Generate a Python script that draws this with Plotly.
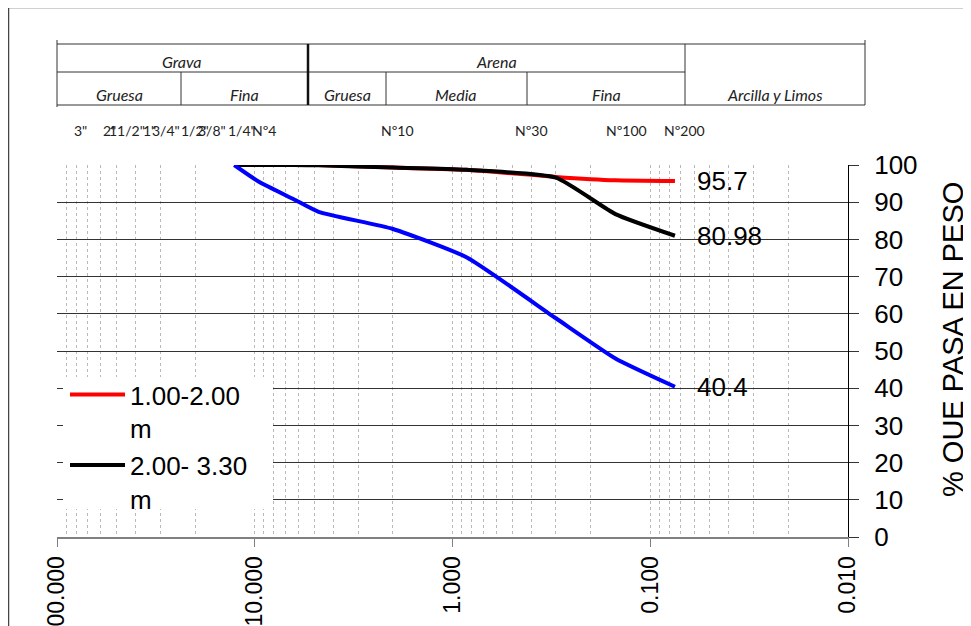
import numpy as np
import plotly.graph_objects as go

# ---------------- data ----------------
sieve_mm = [12.7, 9.525, 6.35, 4.75, 2.0, 0.85, 0.3, 0.15, 0.075]
pass_100_200 = [100, 100, 100, 100, 99.3, 98.7, 96.8, 95.9, 95.7]
pass_200_330 = [100, 100, 100, 99.9, 99.3, 98.7, 96.6, 86.8, 80.98]
pass_third = [100, 95.5, 90.8, 87.4, 82.8, 75.2, 58.8, 48.0, 40.4]
series_names = ["1.00-2.00<br>m", "2.00- 3.30<br>m", "muestra 3"]
end_labels = ["95.7", "80.98", "40.4"]
x_tick_vals = [100, 10, 1, 0.1, 0.01]
sieve_labels = ['3"', '2"', '11/2"', '1"', '3/4"', '1/2"', '3/8"', '1/4"',
                'Nº4', 'Nº10', 'Nº30', 'Nº100', 'Nº200']
header_top = ["Grava", "Arena"]
header_bottom = ["Gruesa", "Fina", "Gruesa", "Media", "Fina", "Arcilla y Limos"]
y_title = "% QUE PASA EN PESO"

# ---------------- layout helpers (page pixel -> paper) ----------------
PAGE_W, PAGE_H = 971, 626
OFF = 8                      # default body margin of the html page
W, H = PAGE_W - OFF, PAGE_H - OFF
L, R, T, B = 57, 848, 165, 537   # plot area in page pixels


def px(p):
    return (p - L) / (R - L)


def py(p):
    return (B - p) / (B - T)


ARIAL = "Arial, Liberation Sans, sans-serif"
CAL = "Lato, Carlito, sans-serif"

fig = go.Figure()
colors = ["#ff0000", "#000000", "#0000ff"]
series = [pass_100_200, pass_200_330, pass_third]
show_leg = [True, True, False]
for vals, name, col, sl in zip(series, series_names, colors, show_leg):
    fig.add_trace(go.Scatter(
        x=sieve_mm, y=vals, mode="lines", name=name, showlegend=sl,
        line=dict(color=col, width=4, shape="spline", smoothing=0.5),
    ))

# end value labels
for vals, lab in zip(series, end_labels):
    fig.add_annotation(x=np.log10(sieve_mm[-1]), y=vals[-1], text=lab,
                       xref="x", yref="y", showarrow=False, xanchor="left",
                       yanchor="middle", xshift=20,
                       font=dict(family=ARIAL, size=26, color="black"))

shapes = []


def hline(x0, x1, y, w=1, c="#333333"):
    shapes.append(dict(type="line", xref="paper", yref="paper",
                       x0=px(x0), x1=px(x1), y0=py(y), y1=py(y),
                       line=dict(color=c, width=w)))


def vline(x, y0, y1, w=1, c="#333333"):
    shapes.append(dict(type="line", xref="paper", yref="paper",
                       x0=px(x), x1=px(x), y0=py(y0), y1=py(y1),
                       line=dict(color=c, width=w)))


# outer frame
hline(8.5, 967, 7.5, 1.5, "#444444")
vline(8.5, 7.5, 640, 1.5, "#444444")
# header table
hline(57, 865, 44)
hline(57, 685, 72)
hline(57, 865, 105)
vline(57, 40, 107)
vline(865, 40, 105)
vline(308, 44, 105, 2.5, "#111111")
vline(685, 44, 105)
vline(181, 72, 105)
vline(386, 72, 105)
vline(527, 72, 105)
# white legend backing box
shapes.append(dict(type="rect", xref="paper", yref="paper", layer="above",
                   x0=px(63), x1=px(273), y0=py(377), y1=py(509),
                   fillcolor="white", line=dict(width=0)))

top_pos = [(182, 61), (496, 61)]
bot_pos = [(119, 95), (244, 95), (347, 95), (456, 95), (606, 95), (775, 95)]
for txt, (x, y) in zip(header_top + header_bottom, top_pos + bot_pos):
    fig.add_annotation(x=px(x), y=py(y), xref="paper", yref="paper",
                       text="<i>" + txt + "</i>", showarrow=False,
                       xanchor="center", yanchor="middle",
                       font=dict(family=CAL, size=16, color="#222222"))

sieve_pos = [80, 109, 127, 149, 166, 195, 212, 242, 264, 397, 531, 626, 684]
for txt, x in zip(sieve_labels, sieve_pos):
    fig.add_annotation(x=px(x), y=py(130), xref="paper", yref="paper",
                       text=txt, showarrow=False, xanchor="center",
                       yanchor="middle",
                       font=dict(family=CAL, size=14, color="#222222"))

# y axis title (rotated text)
fig.add_annotation(x=px(953), y=py(340), xref="paper", yref="paper",
                   text=y_title, textangle=-90, showarrow=False,
                   xanchor="center", yanchor="middle",
                   font=dict(family=ARIAL, size=29, color="black"))

fig.update_layout(
    width=W, height=H,
    margin=dict(l=L - OFF, r=W - (R - OFF), t=T - OFF, b=H - (B - OFF),
                pad=0, autoexpand=False),
    paper_bgcolor="white", plot_bgcolor="white",
    shapes=shapes,
    showlegend=True,
    legend=dict(x=px(65), y=py(371), xanchor="left", yanchor="top",
                bgcolor="rgba(255,255,255,0)", borderwidth=0, valign="top",
                font=dict(family=ARIAL, size=26, color="black"),
                tracegroupgap=0, itemwidth=55),
    xaxis=dict(
        type="log", range=[2, -2], autorange=False, automargin=False,
        tickvals=x_tick_vals, tickformat=".3f", tickangle=-90,
        ticks="outside", ticklen=8, tickcolor="#808080",
        tickfont=dict(family=ARIAL, size=23, color="black"),
        showline=True, linecolor="#808080", linewidth=2,
        showgrid=True, gridcolor="#b8b8b8", griddash="dot", gridwidth=1,
        minor=dict(dtick="D1", showgrid=True, gridcolor="#b8b8b8",
                   griddash="dot", gridwidth=1, ticks=""),
        zeroline=False,
    ),
    yaxis=dict(
        range=[0, 100], autorange=False, dtick=10, side="right",
        automargin=False,
        ticks="outside", ticklen=10, tickcolor="#333333",
        ticklabelstandoff=10,
        tickfont=dict(family=ARIAL, size=26, color="black"),
        showline=True, linecolor="#000000", linewidth=1,
        showgrid=True, gridcolor="#333333", gridwidth=1,
        zeroline=False,
    ),
)

fig.write_html("out.html")
